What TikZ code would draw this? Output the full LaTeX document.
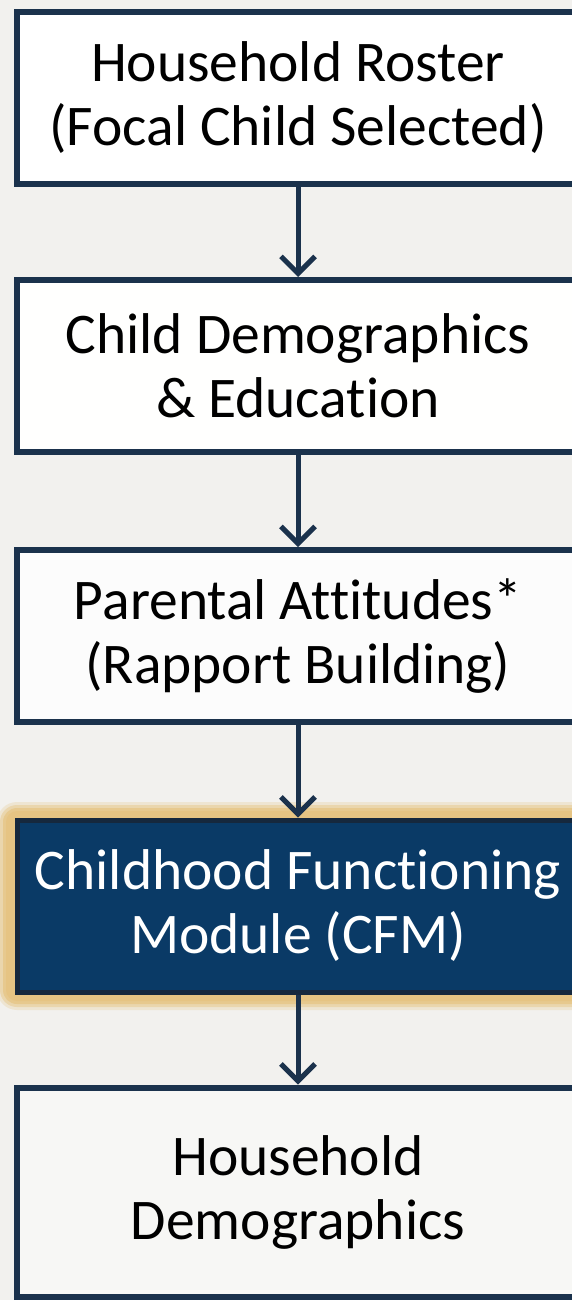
\documentclass[tikz,border=0pt]{standalone}
\usepackage{fontspec}
\setmainfont{Carlito}[RawFeature=-liga]
\usetikzlibrary{arrows.meta,positioning}
\definecolor{PaperClr}{RGB}{242,241,238}
\definecolor{EdgeClr}{RGB}{27,50,76}
\definecolor{CfmClr}{RGB}{10,58,102}
\definecolor{GlowClr}{RGB}{230,196,130}

\begin{document}
\begin{tikzpicture}[x=1pt,y=-1pt,
  stagebox/.style={draw=EdgeClr,line width=6pt,fill=white,minimum width=562pt,
    minimum height=172pt,align=center,inner sep=0pt,
    font=\fontsize{57.5}{64}\selectfont},
  cfmbox/.style={stagebox,fill=CfmClr,draw=EdgeClr!80!black,text=white,line width=5pt},
  flowarrow/.style={draw=EdgeClr,line width=5pt,-{Straight Barb[length=17pt,width=34pt,line width=5pt]}}]
\fill[PaperClr] (0,0) rectangle (572,1300);
\useasboundingbox (0,0) rectangle (572,1300);

\foreach \g/\o in {20/0.25,17/0.45,14/0.7,11/0.9}
  \fill[GlowClr,opacity=\o,rounded corners=\g pt] (17-\g,822-\g) rectangle (579+\g,990+\g);

\node[stagebox] (roster) at (298,98) {Household Roster\\(Focal Child Selected)};
\node[stagebox,fill=white!97!PaperClr] (childdem) at (298,366) {Child Demographics\\\& Education};
\node[stagebox,fill=white!80!PaperClr] (attitudes) at (298,636) {Parental Attitudes*\\(Rapport Building)};
\node[cfmbox] (cfm) at (298,906) {Childhood Functioning\\Module (CFM)};
\node[stagebox,fill=white!40!PaperClr,minimum height=209pt] (hhdem) at (298,1192) {Household\\Demographics};

\draw[flowarrow] (roster) -- (childdem);
\draw[flowarrow] (childdem) -- (attitudes);
\draw[flowarrow] (attitudes) -- (cfm);
\draw[flowarrow] (cfm) -- (hhdem);
\end{tikzpicture}
\end{document}
